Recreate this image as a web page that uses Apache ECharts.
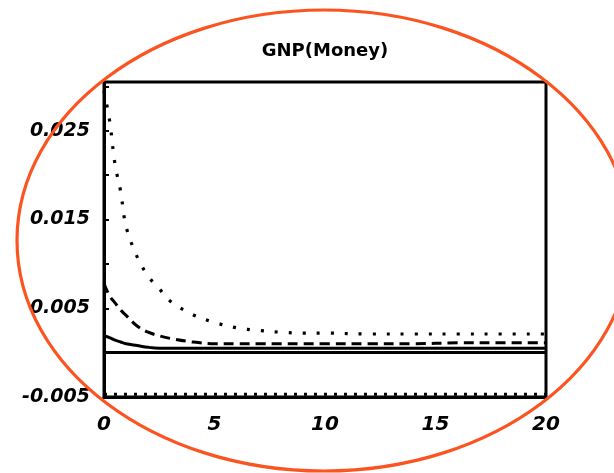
<!DOCTYPE html>
<html>
<head>
<meta charset="utf-8">
<script src="https://cdn.jsdelivr.net/npm/echarts@6/dist/echarts.min.js"></script>
<style>html,body{margin:0;padding:0;background:#fff}#c{width:614px;height:473px}</style>
</head>
<body>
<div id="c"></div>
<script>
var titleText = 'GNP(Money)';
var periods = [0, 0.25, 0.5, 0.75, 1, 1.5, 2, 2.5, 3, 4, 5, 6, 7, 8, 9, 10, 12, 14, 16, 18, 20];
var upperBand = [0.0295, 0.0262, 0.0212, 0.0182, 0.0142, 0.0108, 0.0086, 0.0072, 0.0058, 0.0043, 0.0034, 0.0028, 0.0025, 0.0023, 0.0022, 0.0022, 0.0021, 0.0021, 0.0021, 0.0021, 0.0021];
var midResponse = [0.0078, 0.0064, 0.0056, 0.0048, 0.0042, 0.0030, 0.0023, 0.0019, 0.0016, 0.0012, 0.0010, 0.0010, 0.0010, 0.0010, 0.0010, 0.0010, 0.0010, 0.0010, 0.0011, 0.0011, 0.0011];
var lowResponse = [0.0019, 0.0017, 0.0014, 0.0012, 0.0010, 0.0008, 0.0006, 0.0005, 0.0005, 0.0005, 0.0005, 0.0005, 0.0005, 0.0005, 0.0005, 0.0005, 0.0005, 0.0005, 0.0005, 0.0005, 0.0005];
var lowerBand = [-0.0047, -0.0047, -0.0047, -0.0047, -0.0047, -0.0047, -0.0047, -0.0047, -0.0047, -0.0047, -0.0047, -0.0047, -0.0047, -0.0047, -0.0047, -0.0047, -0.0047, -0.0047, -0.0047, -0.0047, -0.0047];
var xTicks = [0, 5, 10, 15, 20];
var yTickLabels = [-0.005, 0.005, 0.015, 0.025];

function pairs(vals) { return periods.map(function (t, i) { return [t, vals[i]]; }); }

var chart = echarts.init(document.getElementById('c'), null, { renderer: 'canvas' });
chart.setOption({
  animation: false,
  backgroundColor: '#fff',
  title: {
    text: titleText, left: 320, top: 37, textAlign: 'center',
    textStyle: { fontFamily: 'DejaVu Sans', fontWeight: 'bold', fontSize: 18, color: '#000' }
  },
  grid: { left: 104, right: 68, top: 82, bottom: 76, show: true, borderColor: '#000', borderWidth: 3, backgroundColor: 'transparent' },
  xAxis: {
    type: 'value', min: 0, max: 20, interval: 5,
    axisLine: { onZero: false, lineStyle: { color: '#000', width: 3 } },
    axisTick: { show: false }, splitLine: { show: false },
    axisLabel: { margin: 18, fontFamily: 'DejaVu Sans', fontWeight: 'bold', fontStyle: 'italic', fontSize: 20, color: '#000',
      formatter: function (v) { return xTicks.indexOf(v) >= 0 ? String(v) : ''; } }
  },
  yAxis: {
    type: 'value', min: -0.005, max: 0.0305, interval: 0.005,
    axisLine: { show: true, lineStyle: { color: '#000', width: 3 } },
    axisTick: { show: true, inside: true, length: 5, lineStyle: { color: '#000', width: 2 } },
    splitLine: { show: false },
    axisLabel: { margin: 14, fontFamily: 'DejaVu Sans', fontWeight: 'bold', fontStyle: 'italic', fontSize: 19, color: '#000',
      formatter: function (v) {
        for (var i = 0; i < yTickLabels.length; i++) {
          if (Math.abs(v - yTickLabels[i]) < 1e-9) return yTickLabels[i].toFixed(3);
        }
        return '';
      } }
  },
  series: [
    { type: 'line', data: pairs(upperBand), showSymbol: false, smooth: 0.35, lineStyle: { color: '#000', width: 3.2, type: [3, 11] } },
    { type: 'line', data: pairs(midResponse), showSymbol: false, smooth: 0.35, lineStyle: { color: '#000', width: 3, type: [10, 6] } },
    { type: 'line', data: pairs(lowResponse), showSymbol: false, smooth: 0.35, lineStyle: { color: '#000', width: 3 },
      markLine: { silent: true, symbol: 'none', label: { show: false }, lineStyle: { color: '#000', width: 3, type: 'solid' }, data: [{ yAxis: 0 }] } },
    { type: 'line', data: pairs(lowerBand), showSymbol: false, lineStyle: { color: '#000', width: 3, type: [3, 7] } }
  ],
  graphic: [{
    type: 'ellipse', z: 100, silent: true,
    shape: { cx: 324, cy: 240.5, rx: 307, ry: 230.5 },
    style: { fill: 'none', stroke: '#fb5420', lineWidth: 3.2 }
  }]
});
</script>
</body>
</html>
